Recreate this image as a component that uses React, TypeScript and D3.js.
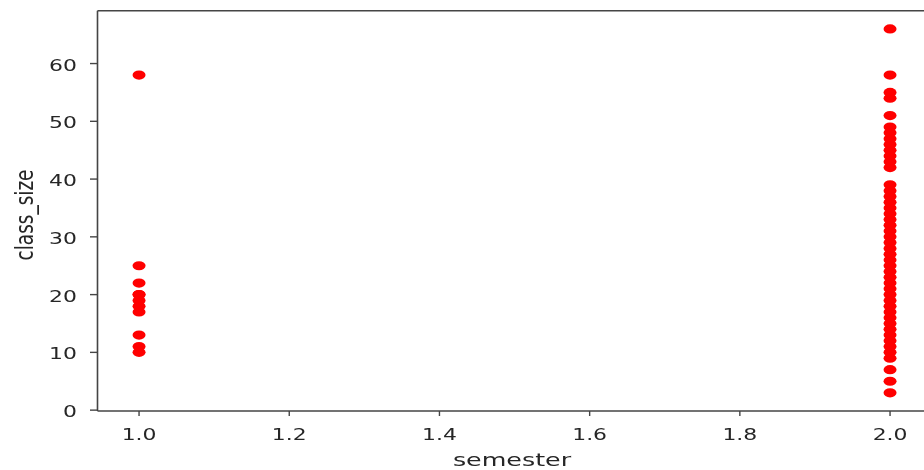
import React from 'react';
import * as d3 from 'd3';

// semester -> class sizes
const semesterOne = [58, 25, 22, 20, 20, 19, 18, 17, 13, 11, 10];
const semesterTwo = [
  66, 58, 55, 54, 51, 49, 48, 47, 46, 45, 44, 43, 42,
  39, 38, 37, 36, 35, 34, 33, 32, 31, 30, 29, 28, 27, 26, 25, 24, 23, 22, 21,
  20, 19, 18, 17, 16, 15, 14, 13, 12, 11, 10, 9, 7, 5, 3,
];
const semesters = [1, 2];
const xLabel = 'semester';
const yLabel = 'class_size';

const W = 924;
const H = 470;
const TEXT = '#262626';
const SX = 1.37; // the picture is stretched sideways

function App() {
  const points = [
    ...semesterOne.map(v => ({ s: semesters[0], v })),
    ...semesterTwo.map(v => ({ s: semesters[1], v })),
  ];

  const xScale = d3.scaleLinear().domain([0.95, 2.05]).range([101.5, 927.6]);
  const yScale = d3.scaleLinear().domain([-0.15, 69.15]).range([411, 10.7]);

  const xTicks = xScale.ticks(6);
  const yTicks = yScale.ticks(7);
  const fmt = d3.format('.1f');

  const tickFont = { fontFamily: 'DejaVu Sans', fontSize: 16, fill: TEXT };
  const labelFont = { fontFamily: 'DejaVu Sans', fontSize: 18.5, fill: TEXT };

  return (
    <svg
      width={W}
      height={H}
      style={{ position: 'absolute', left: 0, top: 0, background: '#fff' }}
    >
      <defs>
        <filter id="soft" x="-20%" y="-20%" width="140%" height="140%">
          <feGaussianBlur stdDeviation="0.7" />
        </filter>
      </defs>

      <g filter="url(#soft)">
        {/* points */}
        {points.map((d, i) => (
          <ellipse
            key={i}
            cx={xScale(d.s)}
            cy={yScale(d.v)}
            rx={6.5}
            ry={4.6}
            fill="#ff0000"
          />
        ))}

        {/* spines */}
        <line x1={97.5} x2={97.5} y1={10.7} y2={411} stroke="#444" strokeWidth={1.6} />
        <line x1={97.5} x2={W} y1={411} y2={411} stroke="#444" strokeWidth={1.6} />
        <line x1={97.5} x2={W} y1={10.7} y2={10.7} stroke="#444" strokeWidth={1.6} />

        {/* x ticks */}
        {xTicks.map(t => (
          <g key={'x' + t}>
            <line x1={xScale(t)} x2={xScale(t)} y1={411} y2={416} stroke="#444" strokeWidth={1.4} />
            <text
              transform={`translate(${xScale(t)},440) scale(${SX},1)`}
              textAnchor="middle"
              {...tickFont}
            >
              {fmt(t)}
            </text>
          </g>
        ))}

        {/* y ticks */}
        {yTicks.map(t => (
          <g key={'y' + t}>
            <line x1={90} x2={97.5} y1={yScale(t)} y2={yScale(t)} stroke="#444" strokeWidth={1.4} />
            <text
              transform={`translate(77,${yScale(t) + 7}) scale(${SX},1)`}
              textAnchor="end"
              {...tickFont}
            >
              {t}
            </text>
          </g>
        ))}

        {/* axis labels */}
        <text
          transform={`translate(512,466) scale(${SX},1)`}
          textAnchor="middle"
          {...labelFont}
        >
          {xLabel}
        </text>
        <text
          transform={`translate(33,215) scale(${SX},1) rotate(-90)`}
          textAnchor="middle"
          {...labelFont}
        >
          {yLabel}
        </text>
      </g>
    </svg>
  );
}

export default App;
